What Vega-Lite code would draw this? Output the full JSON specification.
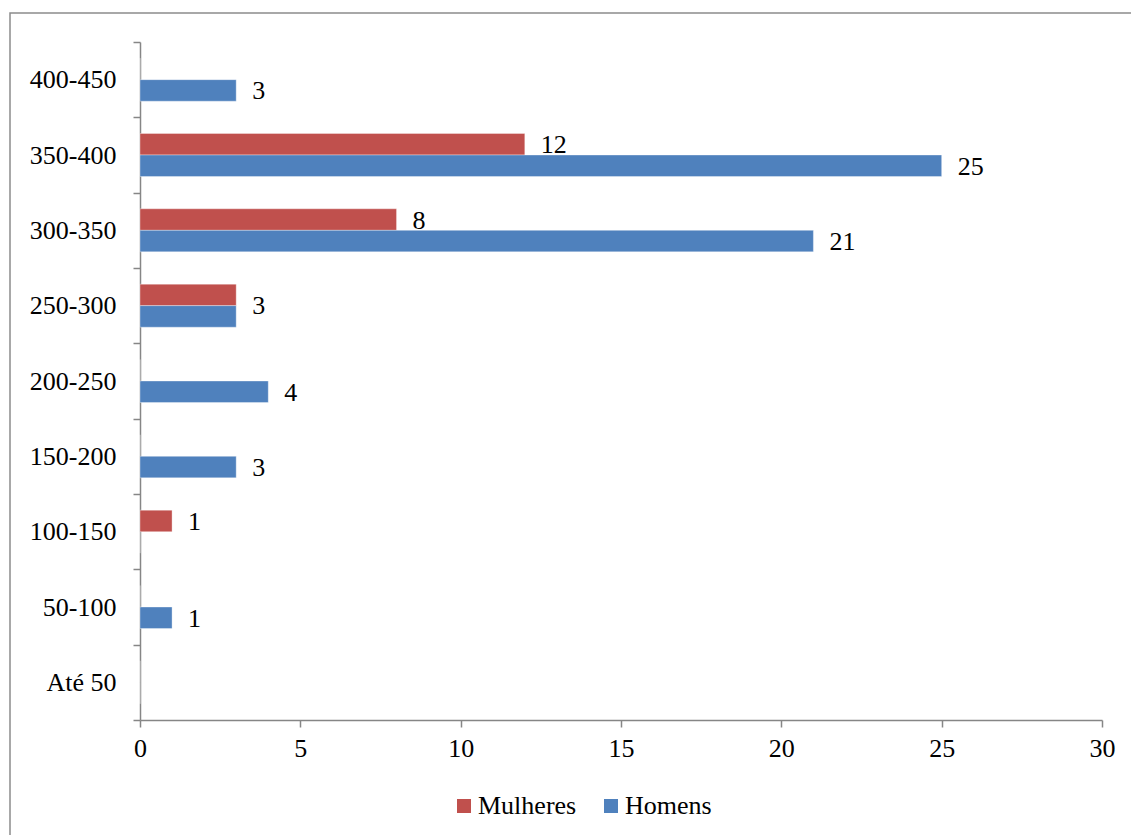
{
  "$schema": "https://vega.github.io/schema/vega-lite/v6.json",
  "autosize": "none",
  "width": 1150,
  "height": 840,
  "padding": {"left": 10, "top": 13, "right": 0, "bottom": 0},
  "background": "white",
  "config": {
    "view": {"stroke": "#8c8c8c", "strokeWidth": 1.5},
    "font": "Times New Roman, Liberation Serif, serif",
    "axis": {
      "domainColor": "#868686",
      "domainWidth": 1.5,
      "tickColor": "#868686",
      "tickWidth": 1.5,
      "tickSize": 7,
      "grid": false,
      "labelFont": "Times New Roman, Liberation Serif, serif",
      "labelFontSize": 26,
      "labelColor": "#000000",
      "title": null
    }
  },
  "data": {
    "values": [
      {"faixa": "Até 50", "sexo": "Mulheres", "n": 0},
      {"faixa": "Até 50", "sexo": "Homens", "n": 0},
      {"faixa": "50-100", "sexo": "Mulheres", "n": 0},
      {"faixa": "50-100", "sexo": "Homens", "n": 1},
      {"faixa": "100-150", "sexo": "Mulheres", "n": 1},
      {"faixa": "100-150", "sexo": "Homens", "n": 0},
      {"faixa": "150-200", "sexo": "Mulheres", "n": 0},
      {"faixa": "150-200", "sexo": "Homens", "n": 3},
      {"faixa": "200-250", "sexo": "Mulheres", "n": 0},
      {"faixa": "200-250", "sexo": "Homens", "n": 4},
      {"faixa": "250-300", "sexo": "Mulheres", "n": 3},
      {"faixa": "250-300", "sexo": "Homens", "n": 3},
      {"faixa": "300-350", "sexo": "Mulheres", "n": 8},
      {"faixa": "300-350", "sexo": "Homens", "n": 21},
      {"faixa": "350-400", "sexo": "Mulheres", "n": 12},
      {"faixa": "350-400", "sexo": "Homens", "n": 25},
      {"faixa": "400-450", "sexo": "Mulheres", "n": 0},
      {"faixa": "400-450", "sexo": "Homens", "n": 3}
    ]
  },
  "encoding": {
    "y": {
      "field": "faixa",
      "type": "nominal",
      "sort": ["400-450", "350-400", "300-350", "250-300", "200-250", "150-200", "100-150", "50-100", "Até 50"],
      "scale": {"range": [29, 707], "paddingInner": 0, "paddingOuter": 0},
      "axis": {"offset": -130, "tickBand": "extent", "labelPadding": 17}
    },
    "x": {
      "field": "n",
      "type": "quantitative",
      "scale": {"domain": [0, 30], "range": [130, 1092], "nice": false},
      "axis": {"offset": -133, "values": [0, 5, 10, 15, 20, 25, 30], "labelPadding": 8, "labelFlush": false}
    }
  },
  "layer": [
    {
      "mark": {"type": "bar", "stroke": "#ffffff", "strokeOpacity": 0.35, "strokeWidth": 1},
      "encoding": {
        "yOffset": {
          "field": "sexo",
          "type": "nominal",
          "sort": ["Mulheres", "Homens"],
          "scale": {"paddingInner": 0, "paddingOuter": 0.75}
        },
        "color": {
          "field": "sexo",
          "type": "nominal",
          "sort": ["Mulheres", "Homens"],
          "scale": {"domain": ["Mulheres", "Homens"], "range": ["#C0504D", "#4F81BD"]},
          "legend": {
            "title": null,
            "orient": "none",
            "direction": "horizontal",
            "legendX": 441,
            "legendY": 780,
            "symbolType": "square",
            "symbolSize": 196,
            "symbolStrokeWidth": 0,
            "labelFont": "Times New Roman, Liberation Serif, serif",
            "labelFontSize": 26,
            "labelColor": "#000000",
            "labelOffset": 1,
            "columnPadding": 21
          }
        }
      }
    },
    {
      "transform": [{"filter": "datum.n > 0 && datum.faixa != '250-300'"}],
      "mark": {"type": "text", "align": "left", "baseline": "middle", "dx": 16, "dy": 1, "fontSize": 26, "font": "Times New Roman, Liberation Serif, serif", "color": "#000000"},
      "encoding": {
        "yOffset": {
          "field": "sexo",
          "type": "nominal",
          "sort": ["Mulheres", "Homens"],
          "scale": {"paddingInner": 0, "paddingOuter": 0.75}
        },
        "text": {"field": "n", "type": "quantitative"}
      }
    },
    {
      "transform": [{"filter": "datum.faixa == '250-300' && datum.sexo == 'Homens'"}],
      "mark": {"type": "text", "align": "left", "baseline": "middle", "dx": 16, "dy": 0, "fontSize": 26, "font": "Times New Roman, Liberation Serif, serif", "color": "#000000"},
      "encoding": {
        "text": {"field": "n", "type": "quantitative"}
      }
    }
  ]
}
